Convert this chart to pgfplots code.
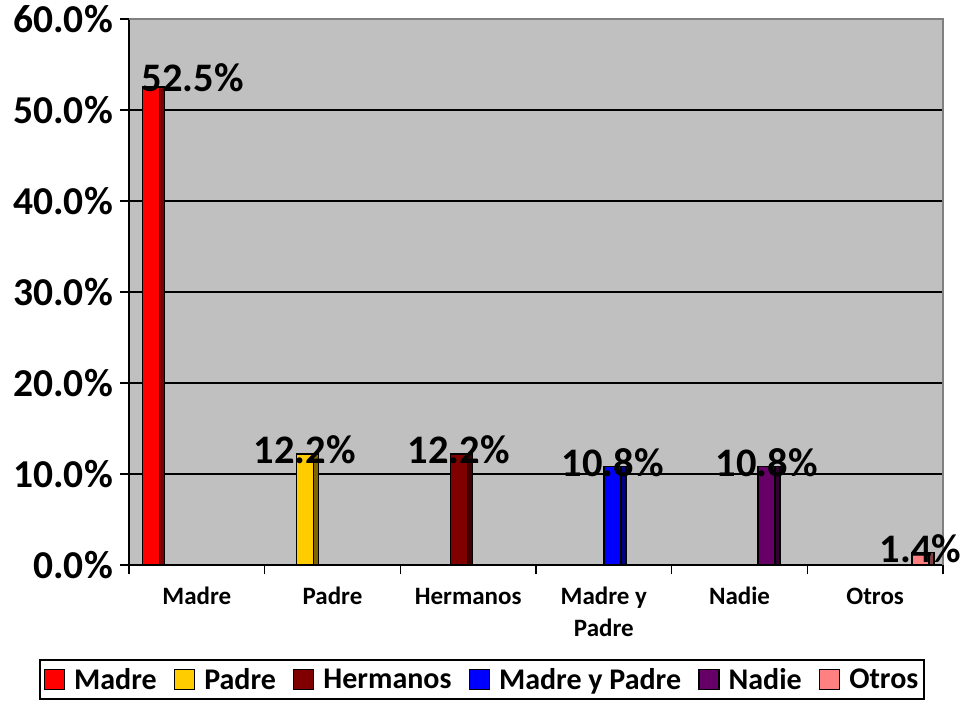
\documentclass[border=0pt]{standalone}
\usepackage{fontspec}
\setmainfont{Carlito}
\usepackage{pgfplots}
\pgfplotsset{compat=1.18}
\definecolor{bgGray}{HTML}{C0C0C0}
\definecolor{brdGray}{HTML}{808080}
\definecolor{cMadre}{HTML}{FF0000}
\definecolor{cMadreS}{HTML}{800000}
\definecolor{cPadre}{HTML}{FFCC00}
\definecolor{cPadreS}{HTML}{806600}
\definecolor{cHerm}{HTML}{800000}
\definecolor{cHermS}{HTML}{400000}
\definecolor{cMyP}{HTML}{0000FF}
\definecolor{cMyPS}{HTML}{000080}
\definecolor{cNadie}{HTML}{660066}
\definecolor{cNadieS}{HTML}{330033}
\definecolor{cOtros}{HTML}{FF8080}
\definecolor{cOtrosS}{HTML}{804040}
\pgfplotsset{
  front/.style={draw=black, line width=1.5bp, bar width=17bp,
    nodes near coords={\pgfmathprintnumber[fixed,fixed zerofill,precision=1,assume math mode=true]{\pgfplotspointmeta}\%},
    every node near coord/.append style={black, anchor=center, yshift=4bp, inner sep=0pt,
      font=\fontsize{40.5bp}{46bp}\selectfont\bfseries}},
  side/.style={draw=black, line width=1.5bp, bar width=5bp, forget plot},
}
\begin{document}
\begin{tikzpicture}
\useasboundingbox (0bp,0bp) rectangle (965bp,708bp);
\begin{axis}[
  at={(129bp,143bp)}, anchor=south west,
  scale only axis, width=814bp, height=546bp,
  ybar, clip=false,
  xmin=-0.5, xmax=5.5, ymin=0, ymax=60,
  axis x line*=bottom, axis y line*=left,
  axis line style={black, line width=2bp},
  axis background/.style={fill=bgGray},
  ymajorgrids, major grid style={black, line width=2bp},
  ytick={0,10,20,30,40,50,60},
  yticklabel={\pgfmathprintnumber[fixed,fixed zerofill,precision=1,assume math mode=true]{\tick}\%},
  xtick={-0.5,0.5,1.5,2.5,3.5,4.5,5.5},
  xticklabels={,,,,,,},
  extra x ticks={0,1,2,3,4,5},
  extra x tick labels={Madre,Padre,Hermanos,{Madre y\\Padre},Nadie,Otros},
  extra x tick style={major tick length=0pt},
  typeset ticklabels with strut,
  tick align=outside, major tick length=9bp,
  tick style={black, line width=1.5bp},
  yticklabel style={font=\fontsize{39.5bp}{44bp}\selectfont\bfseries, inner sep=0pt, xshift=-7bp},
  xticklabel style={font=\fontsize{25bp}{32bp}\selectfont\bfseries, align=center, inner sep=0pt, yshift=-17bp},
  legend columns=6,
  legend style={at={(0.4337,-0.1722)}, anchor=north, draw=black, line width=2bp, fill=white,
    font=\fontsize{30bp}{36bp}\selectfont\bfseries,
    /tikz/every even column/.append style={column sep=15bp},
    /tikz/every odd column/.append style={column sep=7bp},
    inner xsep=4bp, inner ysep=6bp,
    nodes={inner sep=2bp}},
  legend image code/.code={\draw[#1, draw=black, line width=1.5bp] (0bp,-10bp) rectangle (20bp,10bp);},
  legend entries={Madre,Padre,Hermanos,Madre y Padre,Nadie,Otros},
]
\addplot[front, fill=cMadre, bar shift=-46bp, every node near coord/.append style={xshift=42bp, yshift=6bp}] coordinates {(0,52.5)};
\addplot[front, fill=cPadre, bar shift=-27.7bp] coordinates {(1,12.2)};
\addplot[front, fill=cHerm, bar shift=-9.4bp] coordinates {(2,12.2)};
\addplot[front, fill=cMyP, bar shift=8.9bp] coordinates {(3,10.8)};
\addplot[front, fill=cNadie, bar shift=27.2bp] coordinates {(4,10.8)};
\addplot[front, fill=cOtros, bar shift=45.5bp] coordinates {(5,1.4)};
\addplot[side, fill=cMadreS, bar shift=-35bp] coordinates {(0,52.5)};
\addplot[side, fill=cPadreS, bar shift=-16.7bp] coordinates {(1,12.2)};
\addplot[side, fill=cHermS, bar shift=1.6bp] coordinates {(2,12.2)};
\addplot[side, fill=cMyPS, bar shift=19.9bp] coordinates {(3,10.8)};
\addplot[side, fill=cNadieS, bar shift=38.2bp] coordinates {(4,10.8)};
\addplot[side, fill=cOtrosS, bar shift=56.5bp] coordinates {(5,1.4)};
\draw[brdGray, line width=2.5bp] (rel axis cs:0,1) -- (rel axis cs:1,1) -- (rel axis cs:1,0);
\end{axis}
\end{tikzpicture}
\end{document}
